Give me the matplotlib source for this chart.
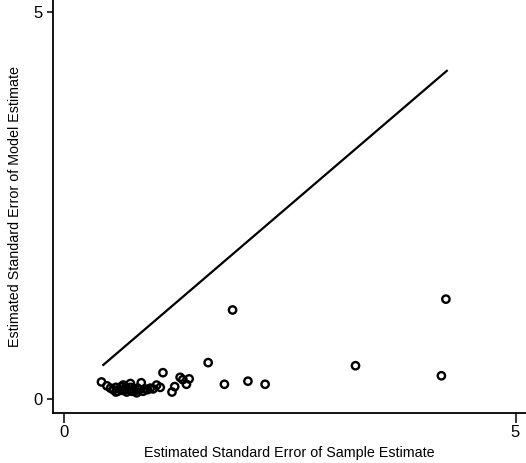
import matplotlib
matplotlib.use("Agg")
import matplotlib.pyplot as plt

plt.rcParams["font.family"] = ["Liberation Sans Narrow", "Liberation Sans", "DejaVu Sans"]

# standard errors: sample estimate (x) vs model estimate (y)
sample_se = [0.42, 0.48, 0.52, 0.55, 0.58, 0.60, 0.62, 0.64, 0.66, 0.68, 0.70,
             0.72, 0.74, 0.76, 0.78, 0.80, 0.82, 0.84, 0.86, 0.88, 0.90, 0.93,
             0.96, 0.99, 1.03, 1.07, 0.58, 0.66, 0.74, 0.81, 0.69, 0.77,
             1.10, 1.20, 1.23, 1.29, 1.32, 1.36, 1.39, 1.60, 1.78, 1.87,
             2.04, 2.23, 3.23, 4.18, 4.23]
model_se = [0.22, 0.17, 0.14, 0.12, 0.15, 0.10, 0.13, 0.16, 0.11, 0.14, 0.09,
            0.12, 0.15, 0.10, 0.13, 0.11, 0.14, 0.12, 0.21, 0.10, 0.13, 0.12,
            0.14, 0.13, 0.18, 0.15, 0.09, 0.18, 0.20, 0.08, 0.12, 0.10,
            0.34, 0.09, 0.16, 0.28, 0.25, 0.19, 0.26, 0.47, 0.19, 1.15,
            0.23, 0.19, 0.43, 0.30, 1.29]
line_x = [0.44, 4.24]

fig = plt.figure(figsize=(5.26, 4.63), dpi=100)
ax = fig.add_axes([0.1008, 0.108, 0.8992, 0.892])

ax.plot(line_x, line_x, color="black", lw=1.6)
ax.scatter(sample_se, model_se, s=28, facecolors="none", edgecolors="black",
           linewidths=1.7, zorder=3)

ax.set_xlim(-0.116, 5.116)
ax.set_ylim(-0.181, 5.155)
ax.set_xticks([0, 5])
ax.set_yticks([0, 5])
ax.spines["top"].set_visible(False)
ax.spines["right"].set_visible(False)
for s in ("left", "bottom"):
    ax.spines[s].set_linewidth(1.3)
ax.tick_params(axis="x", direction="out", length=7.5, width=1.1, labelsize=12, pad=1.5)
ax.tick_params(axis="y", direction="out", length=4.5, width=1.1, labelsize=12, pad=3)
ax.set_xlabel("Estimated Standard Error of Sample Estimate", fontsize=10.3)
ax.set_ylabel("Estimated Standard Error of Model Estimate", fontsize=10.3)
ax.xaxis.set_label_coords(0.5, -0.08)
ax.yaxis.set_label_coords(-0.065, 0.5)

fig.savefig("out.png", dpi=100)
